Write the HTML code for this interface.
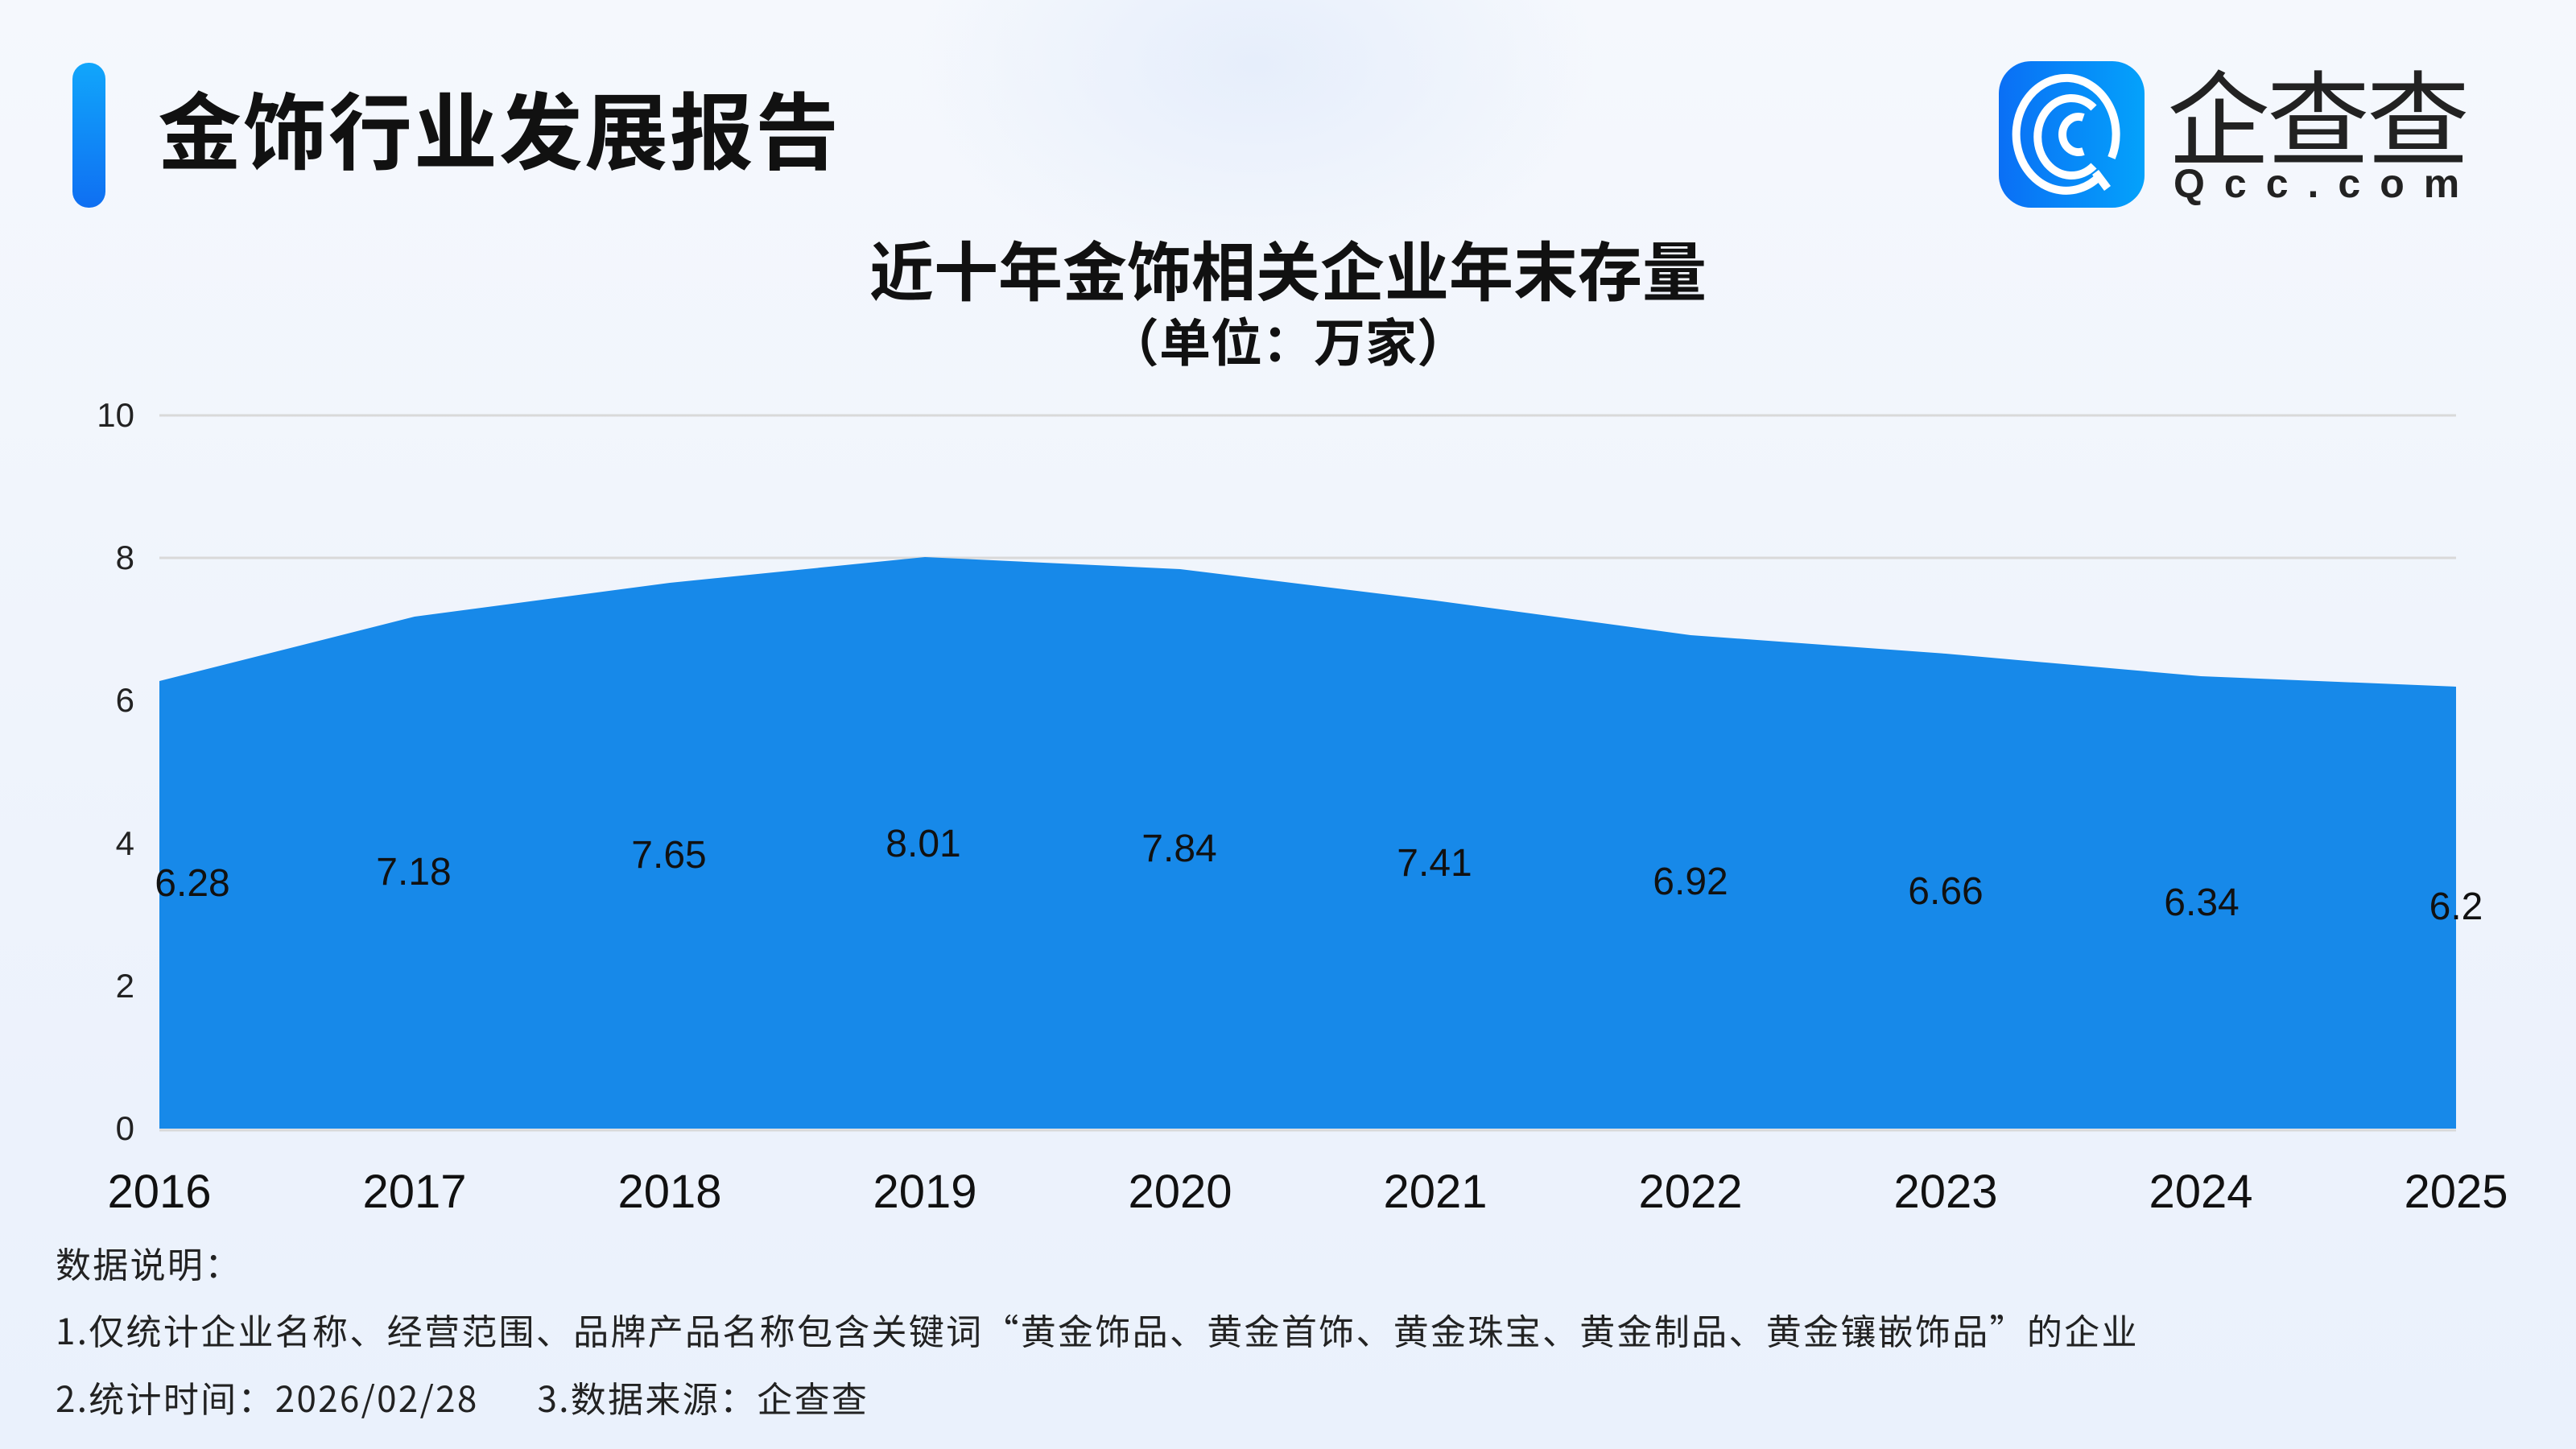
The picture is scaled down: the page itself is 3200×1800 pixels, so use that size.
<!DOCTYPE html>
<html><head><meta charset="utf-8"><style>
html,body{margin:0;padding:0}
body{width:3200px;height:1800px;position:relative;overflow:hidden;
background:radial-gradient(ellipse 420px 260px at 1560px 80px,#e6eefb,rgba(230,238,251,0)),linear-gradient(180deg,#f5f8fd 0%,#eef3fc 60%,#eaf1fc 100%);
font-family:"Liberation Sans","Noto Sans CJK SC",sans-serif;color:#111}
.a{position:absolute;white-space:nowrap}
.n{font-family:"Noto Sans CJK SC",sans-serif;font-size:44px;line-height:56px;color:#222;letter-spacing:2.3px}
</style></head><body>
<div class="a" style="left:90px;top:78px;width:41px;height:180px;border-radius:20px;background:linear-gradient(180deg,#11a6fb,#0f6ff2)"></div>
<div class="a" style="left:196px;top:92px;font-size:104px;font-weight:bold;line-height:130px;font-family:'Noto Sans CJK SC',sans-serif;letter-spacing:2px">金饰行业发展报告</div>
<div class="a" style="left:2483px;top:76px;width:181px;height:182px;border-radius:40px;background:linear-gradient(90deg,#0a6ff5,#04a2fb)">
<svg width="181" height="182" viewBox="0 0 181 182"><g fill="none" stroke="#fff" stroke-width="10" stroke-linecap="butt">
<path d="M125 143 A62 70 0 1 1 140 120"/><path d="M118 130 A42 48 0 1 1 118 58"/><path d="M105 112 A20 22 0 1 1 105 70"/><path d="M120 138 L135 158"/></g></svg></div>
<div class="a" style="left:2692px;top:70px;font-size:128px;line-height:140px;color:#222;font-family:'Noto Sans CJK SC',sans-serif;letter-spacing:-4px">企查查</div>
<div class="a" style="left:2700px;top:200px;font-size:50px;line-height:56px;color:#222;letter-spacing:24px;font-weight:bold">Qcc.com</div>
<div class="a" style="left:0;width:3200px;top:285px;text-align:center;font-size:80px;font-weight:bold;line-height:96px;font-family:'Noto Sans CJK SC',sans-serif">近十年金饰相关企业年末存量</div>
<div class="a" style="left:0;width:3200px;top:382px;text-align:center;font-size:64px;font-weight:bold;line-height:80px;font-family:'Noto Sans CJK SC',sans-serif">（单位：万家）</div>
<svg class="a" style="left:0;top:0" width="3200" height="1800">
<g stroke="#d9d9d9" stroke-width="3"><line x1="198" x2="3051" y1="516" y2="516"/><line x1="198" x2="3051" y1="693" y2="693"/><line x1="198" x2="3051" y1="1404" y2="1404"/></g>
<polygon fill="#1789e9" points="198,1402 198,846 515,766 832,724 1149,692 1466,707 1783,746 2100,789 2417,812 2734,840 3051,853 3051,1402"/>
<g font-size="42" text-anchor="end" fill="#222" font-family="Liberation Sans,sans-serif">
<text x="167" y="530">10</text><text x="167" y="707">8</text><text x="167" y="884">6</text><text x="167" y="1062">4</text><text x="167" y="1239">2</text><text x="167" y="1416">0</text></g>
<g font-size="58" text-anchor="middle" fill="#111" font-family="Liberation Sans,sans-serif">
<text x="198" y="1500">2016</text><text x="515" y="1500">2017</text><text x="832" y="1500">2018</text><text x="1149" y="1500">2019</text><text x="1466" y="1500">2020</text><text x="1783" y="1500">2021</text><text x="2100" y="1500">2022</text><text x="2417" y="1500">2023</text><text x="2734" y="1500">2024</text><text x="3051" y="1500">2025</text></g>
<g font-size="48" text-anchor="middle" fill="#111" font-family="Liberation Sans,sans-serif">
<text x="239" y="1113">6.28</text><text x="514" y="1099">7.18</text><text x="831" y="1078">7.65</text><text x="1147" y="1064">8.01</text><text x="1465" y="1070">7.84</text><text x="1782" y="1088">7.41</text><text x="2100" y="1111">6.92</text><text x="2417" y="1123">6.66</text><text x="2735" y="1137">6.34</text><text x="3051" y="1142">6.2</text></g>
</svg>
<div class="a n" style="left:69px;top:1540px">数据说明：</div>
<div class="a n" style="left:69px;top:1623px">1.仅统计企业名称、经营范围、品牌产品名称包含关键词“黄金饰品、黄金首饰、黄金珠宝、黄金制品、黄金镶嵌饰品”的企业</div>
<div class="a n" style="left:69px;top:1707px">2.统计时间：2026/02/28&nbsp;&nbsp;&nbsp;&nbsp;&nbsp;&nbsp;3.数据来源：企查查</div>
</body></html>
